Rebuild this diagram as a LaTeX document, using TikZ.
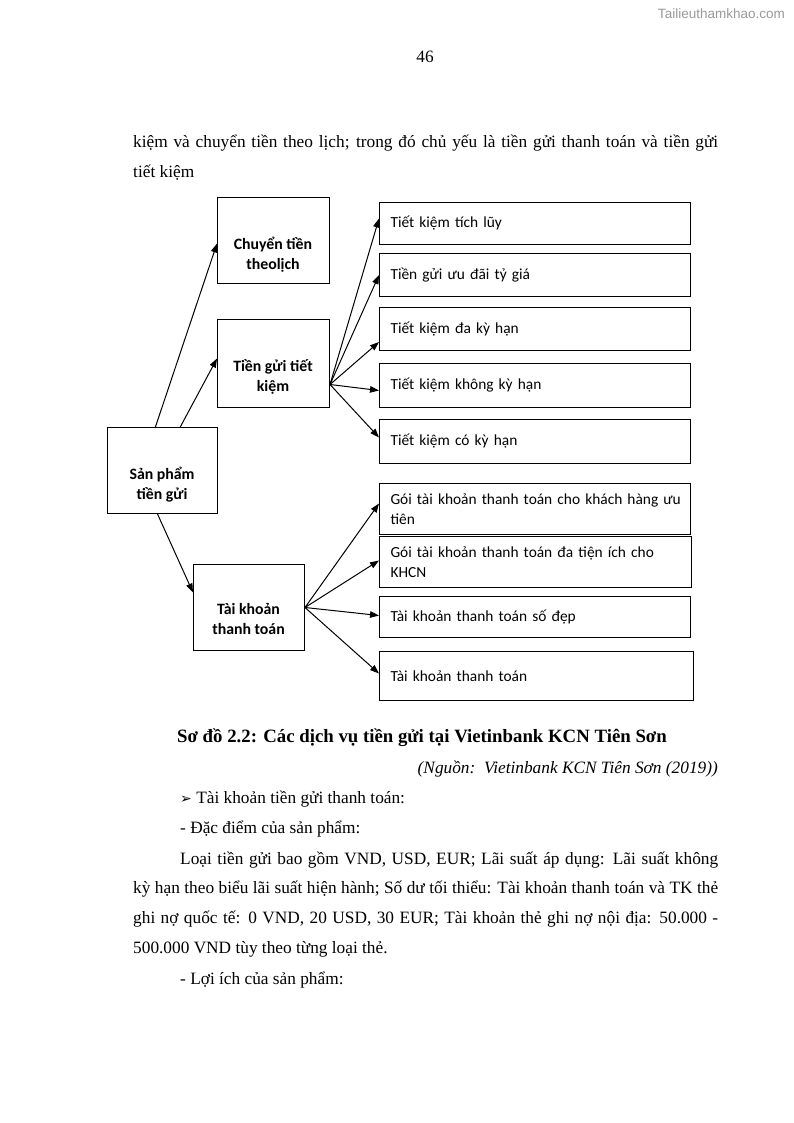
\documentclass[tikz,border=0pt]{standalone}
\usepackage{fontspec}
\setmainfont{Liberation Serif}
\newfontfamily\calfont{Carlito}
\newfontfamily\dejafont{DejaVu Sans}
\newfontfamily\wmfont{Liberation Sans}
\usetikzlibrary{arrows.meta,calc}
\tikzset{
  lbox/.style={draw, line width=1pt, rectangle, inner sep=0pt, anchor=north west},
  ltext/.style={font=\calfont\bfseries\fontsize{15.8}{20}\selectfont, align=center, inner sep=0pt},
  rbox/.style={draw, line width=1pt, rectangle, anchor=north west, inner xsep=11pt, inner ysep=0pt,
    align=left, font=\calfont\fontsize{15.4}{20}\selectfont},
  conn/.style={line width=1pt, -{Triangle[length=9pt,width=6.5pt]}},
  body/.style={font=\fontsize{17.3}{29.7}\selectfont, inner sep=0pt, anchor=base west},
}
\begin{document}
\begin{tikzpicture}[x=1pt,y=-1pt]
\useasboundingbox[fill=white] (0,0) rectangle (794,1123);

% header
\node[font=\wmfont\fontsize{13.5}{16}\selectfont, text=black!40, anchor=base east, inner sep=0pt] (wm) at (785,19) {Tailieuthamkhao.com};
\node[body, anchor=base] (pg) at (425,63) {46};

% top paragraph
\node[body] (p1) at (133,148) {\makebox[585pt][s]{kiệm và chuyển tiền theo lịch; trong đó chủ yếu là tiền gửi thanh toán và tiền gửi}};
\node[body] (p2) at (133,178) {tiết kiệm};

% left boxes
\node[lbox, minimum width=112pt, minimum height=86pt] (c) at (217,197) {};
\node[ltext] (ct) at (273,255) {Chuyển tiền\\theolịch};
\node[lbox, minimum width=112pt, minimum height=88pt] (t) at (217,319) {};
\node[ltext] (tt) at (273,377) {Tiền gửi tiết\\kiệm};
\node[lbox, minimum width=110pt, minimum height=86pt] (s) at (107,427) {};
\node[ltext] (st) at (162,485) {Sản phẩm\\tiền gửi};
\node[lbox, minimum width=111pt, minimum height=86pt] (k) at (193,564) {};
\node[ltext] (kt) at (248.5,619) {Tài khoản\\thanh toán};

% right boxes
\node[rbox, minimum width=311pt, minimum height=42pt, text width=289pt] (r1) at (379,202) {Tiết kiệm tích lũy};
\node[rbox, minimum width=311pt, minimum height=43pt, text width=289pt] (r2) at (379,253) {Tiền gửi ưu đãi tỷ giá};
\node[rbox, minimum width=311pt, minimum height=43pt, text width=289pt] (r3) at (379,307) {Tiết kiệm đa kỳ hạn};
\node[rbox, minimum width=311pt, minimum height=44pt, text width=289pt] (r4) at (379,363) {Tiết kiệm không kỳ hạn};
\node[rbox, minimum width=311pt, minimum height=44pt, text width=289pt] (r5) at (379,419) {Tiết kiệm có kỳ hạn};
\node[rbox, minimum width=311pt, minimum height=51pt, text width=289pt] (r6) at (379,483) {\mbox{Gói tài khoản thanh toán cho khách hàng ưu}\\tiên};
\node[rbox, minimum width=312pt, minimum height=51pt, text width=290pt] (r7) at (379,536) {\mbox{Gói tài khoản thanh toán đa tiện ích cho}\\KHCN};
\node[rbox, minimum width=311pt, minimum height=41pt, text width=289pt] (r8) at (379,596) {Tài khoản thanh toán số đẹp};
\node[rbox, minimum width=314pt, minimum height=49pt, text width=292pt] (r9) at (379,651) {Tài khoản thanh toán};

% connectors from Sản phẩm
\draw[conn] ($(s.north west)!0.436!(s.north east)$) -- ([yshift=-3pt]c.west);
\draw[conn] ($(s.north west)!0.66!(s.north east)$) -- ([yshift=5pt]t.west);
\draw[conn] ($(s.south west)!0.455!(s.south east)$) -- ([yshift=15pt]k.west);

% from Tiền gửi tiết kiệm
\coordinate (to) at ([yshift=-21pt]t.east);
\draw[conn] (to) -- ([yshift=5pt]r1.west);
\draw[conn] (to) -- (r2.west);
\draw[conn] (to) -- ([yshift=-13pt]r3.west);
\draw[conn] (to) -- ([yshift=-5pt]r4.west);
\draw[conn] (to) -- ([yshift=4pt]r5.west);

% from Tài khoản thanh toán
\draw[conn] (k.east) -- ([yshift=5.5pt]r6.west);
\draw[conn] (k.east) -- ([yshift=1.5pt]r7.west);
\draw[conn] (k.east) -- ([yshift=1.5pt]r8.west);
\draw[conn] (k.east) -- ([yshift=2.5pt]r9.west);

% caption
\node[body, anchor=base, font=\bfseries\fontsize{18.8}{22}\selectfont] (cap) at (422,742) {Sơ đồ 2.2: Các dịch vụ tiền gửi tại Vietinbank KCN Tiên Sơn};
\node[body, anchor=base east, font=\itshape\fontsize{17.3}{22}\selectfont] (src) at (718,773) {(Nguồn:\ \ Vietinbank KCN Tiên Sơn (2019))};

% body text
\node[body] (b1) at (180,803) {{\dejafont\fontsize{14}{14}\selectfont ➢} Tài khoản tiền gửi thanh toán:};
\node[body] (b2) at (180,833) {- Đặc điểm của sản phẩm:};
\node[body] (b3) at (180,864) {\makebox[538pt][s]{Loại tiền gửi bao gồm VND, USD, EUR; Lãi suất áp dụng: Lãi suất không}};
\node[body] (b4) at (133,893) {\makebox[585pt][s]{kỳ hạn theo biểu lãi suất hiện hành; Số dư tối thiểu: Tài khoản thanh toán và TK thẻ}};
\node[body] (b5) at (133,923) {\makebox[585pt][s]{ghi nợ quốc tế: 0 VND, 20 USD, 30 EUR; Tài khoản thẻ ghi nợ nội địa: 50.000 -}};
\node[body] (b6) at (133,953) {500.000 VND tùy theo từng loại thẻ.};
\node[body] (b7) at (180,984) {- Lợi ích của sản phẩm:};
\end{tikzpicture}
\end{document}
